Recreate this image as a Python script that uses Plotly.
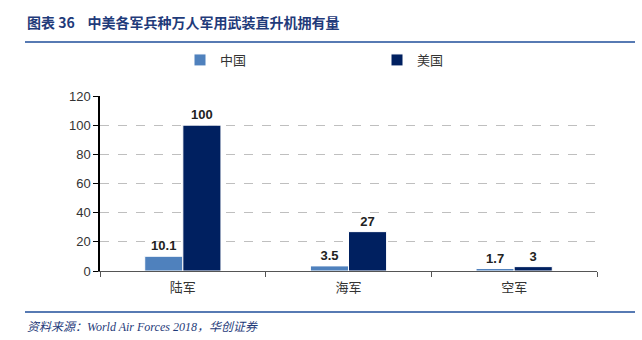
import plotly.graph_objects as go

categories = ["陆军", "海军", "空军"]
china = [10.1, 3.5, 1.7]
usa = [100, 27, 3]
china_labels = ["10.1", "3.5", "1.7"]
usa_labels = ["100", "27", "3"]
yticks = [0, 20, 40, 60, 80, 100, 120]

W, H = 642, 340
L, R, T, B = 100, 45, 96, 69
pw = W - L - R
ph = H - T - B

def px_x(x):
    return (x - L) / pw

def px_y(y):
    return (H - B - y) / ph

lblfont = dict(family="Arial", size=13, color="#222222", weight="bold")
fig = go.Figure()
fig.add_trace(go.Bar(name="中国", x=categories, y=china, text=china_labels,
                     textposition="outside", marker=dict(color="#4f81bd", line=dict(color="white", width=1)),
                     textfont=lblfont, cliponaxis=False, legend="legend"))
fig.add_trace(go.Bar(name="美国", x=categories, y=usa, text=usa_labels,
                     textposition="outside", marker=dict(color="#002060", line=dict(color="white", width=1)),
                     textfont=lblfont, cliponaxis=False, legend="legend2"))

legfont = dict(size=13, color="#333333", family="Noto Sans CJK SC")
fig.update_layout(
    width=W, height=H,
    margin=dict(l=L, r=R, t=T, b=B, pad=0),
    paper_bgcolor="white", plot_bgcolor="white",
    barmode="group", bargap=0.54, bargroupgap=0.0,
    font=dict(family="Arial, Noto Sans CJK SC", size=13, color="#333333"),
    showlegend=True,
    legend=dict(orientation="h", x=px_x(180), y=px_y(60), xanchor="left", yanchor="middle",
                font=legfont, itemwidth=30, bgcolor="rgba(0,0,0,0)"),
    legend2=dict(orientation="h", x=px_x(377), y=px_y(60), xanchor="left", yanchor="middle",
                 font=legfont, itemwidth=30, bgcolor="rgba(0,0,0,0)"),
    xaxis=dict(type="category", showline=True, linecolor="#555555", linewidth=1,
               ticks="outside", tickson="boundaries", ticklen=5, tickcolor="#555555",
               tickfont=dict(size=13, color="#333333", family="Noto Sans CJK SC"),
               ticklabelstandoff=4, showgrid=False, zeroline=False),
    yaxis=dict(range=[0, 120], tickvals=yticks, showline=True, linecolor="#000000", linewidth=1.5,
               ticks="outside", ticklen=5, tickcolor="#000000",
               showgrid=True, gridcolor="#bfbfbf", griddash="dash", gridwidth=1,
               zeroline=False, tickfont=dict(size=13, color="#333333", family="Arial")),
)

fig.add_annotation(text="<b>图表 36    中美各军兵种万人军用武装直升机拥有量</b>",
                   xref="paper", yref="paper", x=px_x(25), y=px_y(22), xanchor="left", yanchor="middle",
                   showarrow=False, font=dict(family="Noto Sans CJK SC", size=14, color="#1f3b7a"))
fig.add_annotation(text="<i>资料来源：World Air Forces 2018，华创证券</i>",
                   xref="paper", yref="paper", x=px_x(25), y=px_y(327), xanchor="left", yanchor="middle",
                   showarrow=False, font=dict(family="Liberation Serif, Noto Sans CJK SC", size=12, color="#1f3b7a"))
for yy in (42, 312):
    fig.add_shape(type="line", xref="paper", yref="paper", x0=px_x(25), x1=px_x(635),
                  y0=px_y(yy), y1=px_y(yy), line=dict(color="#1f4e9a", width=1.5))

fig.write_html("out.html")
